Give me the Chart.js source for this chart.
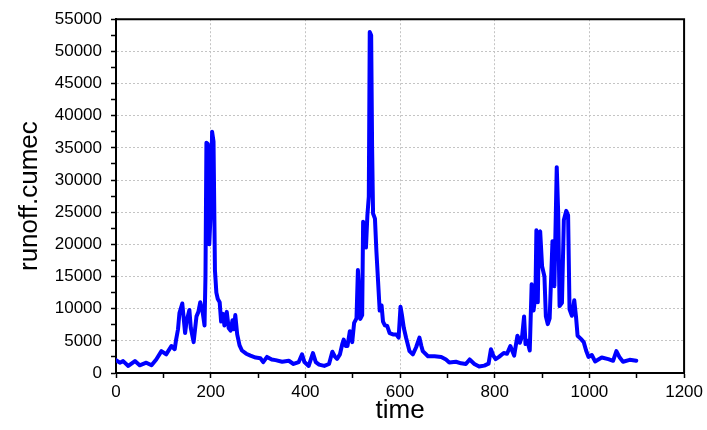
<!DOCTYPE html>
<html>
<head>
<meta charset="utf-8">
<script src="https://cdn.jsdelivr.net/npm/chart.js@4.4.1/dist/chart.umd.min.js"></script>
<style>
  html, body { margin: 0; padding: 0; background: #fff; }
  #wrap { width: 707px; height: 430px; position: relative; }
</style>
</head>
<body>
<div id="wrap"><canvas id="chartRunoff"></canvas></div>
<script>
// ── DATA ─────────────────────────────────────────
const times = [
  0, 8, 15, 26, 40, 50, 64, 75, 85, 96, 106, 117, 124, 127, 131, 134, 140, 146, 149, 155,
  158, 164, 170, 174, 178, 183, 187, 189, 191, 194, 197, 200, 203, 206, 209, 212, 215, 219, 222, 226,
  229, 234, 238, 242, 246, 249, 252, 256, 261, 266, 275, 284, 295, 305, 311, 319, 329, 337, 351, 365,
  375, 386, 393, 398, 407, 416, 422, 429, 440, 450, 457, 462, 467, 473, 478, 481, 485, 489, 494, 499,
  503, 508, 511, 514, 516, 520, 522, 526, 528, 531, 534, 536, 539, 541, 543, 547, 550, 554, 557, 561,
  564, 568, 573, 578, 585, 592, 597, 601, 604, 608, 613, 620, 627, 634, 641, 645, 648, 659, 673, 687,
  697, 704, 718, 729, 739, 747, 757, 767, 778, 787, 792, 797, 802, 809, 819, 826, 833, 841, 848, 853,
  858, 862, 865, 869, 874, 878, 882, 886, 888, 891, 893, 896, 900, 905, 908, 912, 916, 922, 926, 931,
  934, 937, 942, 946, 951, 955, 958, 963, 968, 972, 975, 982, 988, 993, 998, 1005, 1012, 1026, 1040, 1050,
  1057, 1064, 1071, 1085, 1099
];
const runoff = [
  2000, 1600, 1850, 1100, 1850, 1200, 1600, 1200, 2100, 3400, 2900, 4200, 3700, 5200, 6800, 9300, 10800, 6200, 8000, 9800,
  7000, 4800, 8800, 9500, 11000, 9500, 7400, 15000, 35800, 35600, 20000, 25000, 37500, 36000, 16000, 12500, 11500, 11000, 8000, 9200,
  7400, 9500, 7000, 6600, 8200, 6800, 9000, 6000, 4300, 3500, 3000, 2700, 2400, 2300, 1700, 2500, 2100, 2000, 1750, 1900,
  1400, 1700, 2900, 1700, 1100, 3100, 1700, 1300, 1100, 1400, 3300, 2600, 2200, 2900, 4500, 5200, 4200, 4200, 6500, 4800,
  7800, 8500, 16000, 12000, 8400, 9000, 23500, 21000, 19500, 24500, 27400, 53000, 52500, 35000, 24800, 24000, 19000, 13700, 9700, 10500,
  8000, 7400, 7300, 6200, 6000, 6000, 5500, 10300, 9000, 7000, 5400, 3400, 2900, 4000, 5500, 4200, 3400, 2600, 2600, 2500,
  2100, 1650, 1750, 1500, 1400, 2100, 1400, 1000, 1150, 1450, 3700, 2700, 2150, 2500, 3100, 3000, 4200, 2700, 5800, 4700,
  5800, 8800, 4500, 5000, 3500, 13800, 9700, 12000, 22200, 11000, 21800, 22000, 16600, 15000, 8800, 7600, 8500, 20500, 13500, 32000,
  25000, 10400, 10900, 23800, 25200, 24500, 9900, 8900, 11300, 8500, 5800, 5300, 4800, 3500, 2500, 2800, 1800, 2400, 2150, 1900,
  3400, 2400, 1750, 2050, 1900
];

// tick positions (labelled + minor)
const xTicks   = [0, 100, 200, 300, 400, 500, 600, 700, 800, 900, 1000, 1100, 1200];
const xLabeled = [0, 200, 400, 600, 800, 1000, 1200];
const yTicks   = [];
for (let v = 0; v <= 55000; v += 2500) yTicks.push(v);
const yLabeled = [0, 5000, 10000, 15000, 20000, 25000, 30000, 35000, 40000, 45000, 50000, 55000];

const xTitle = 'time';
const yTitle = 'runoff.cumec';

// ── STYLE ────────────────────────────────────────
const FONT = "'Liberation Sans', Arial, sans-serif";
const GRID = '#c4c4c4';

// frame on top/right of plot area
const framePlugin = {
  id: 'frame',
  afterDraw(chart) {
    const { ctx, chartArea: a } = chart;
    ctx.save();
    ctx.strokeStyle = '#000';
    ctx.lineWidth = 2;
    ctx.beginPath();
    ctx.moveTo(a.left, a.top);
    ctx.lineTo(a.right, a.top);
    ctx.lineTo(a.right, a.bottom);
    ctx.stroke();
    ctx.restore();
  }
};

new Chart(document.getElementById('chartRunoff'), {
  type: 'line',
  data: {
    datasets: [{
      data: times.map((t, i) => ({ x: t, y: runoff[i] })),
      borderColor: '#0000ff',
      backgroundColor: '#0000ff',
      borderWidth: 4,
      pointRadius: 0,
      tension: 0,
      borderJoinStyle: 'round',
      borderCapStyle: 'round'
    }]
  },
  options: {
    responsive: true,
    maintainAspectRatio: false,
    animation: false,
    layout: { padding: { top: 18, right: 17, left: 0, bottom: 0 } },
    plugins: { legend: { display: false }, tooltip: { enabled: false } },
    scales: {
      x: {
        type: 'linear', min: 0, max: 1200,
        afterBuildTicks: s => { s.ticks = xTicks.map(v => ({ value: v })); },
        afterFit: s => { s.height = 57; },
        ticks: {
          autoSkip: false, maxRotation: 0, padding: 4, color: '#000',
          font: { family: FONT, size: 17 },
          callback: v => xLabeled.includes(v) ? String(v) : ''
        },
        grid: {
          color: c => (c.tick && xLabeled.includes(c.tick.value)) ? GRID : 'rgba(0,0,0,0)',
          tickColor: '#000', tickLength: 5, tickWidth: 1.5, lineWidth: 1
        },
        border: { color: '#000', width: 2, dash: [2, 2] },
        title: { display: true, text: xTitle, color: '#000', font: { family: FONT, size: 26 }, padding: { top: 0, bottom: 4 } }
      },
      y: {
        min: 0, max: 55000,
        afterBuildTicks: s => { s.ticks = yTicks.map(v => ({ value: v })); },
        afterFit: s => { s.width = 116; },
        ticks: {
          autoSkip: false, padding: 9, color: '#000',
          font: { family: FONT, size: 17 },
          callback: v => yLabeled.includes(v) ? String(v) : ''
        },
        grid: {
          color: c => (c.tick && yLabeled.includes(c.tick.value)) ? GRID : 'rgba(0,0,0,0)',
          tickColor: '#000', tickLength: 5, tickWidth: 1.5, lineWidth: 1
        },
        border: { color: '#000', width: 2, dash: [2, 2] },
        title: { display: true, text: yTitle, color: '#000', font: { family: FONT, size: 26 }, padding: { top: 14, bottom: 0 } }
      }
    }
  },
  plugins: [framePlugin]
});
</script>
</body>
</html>
